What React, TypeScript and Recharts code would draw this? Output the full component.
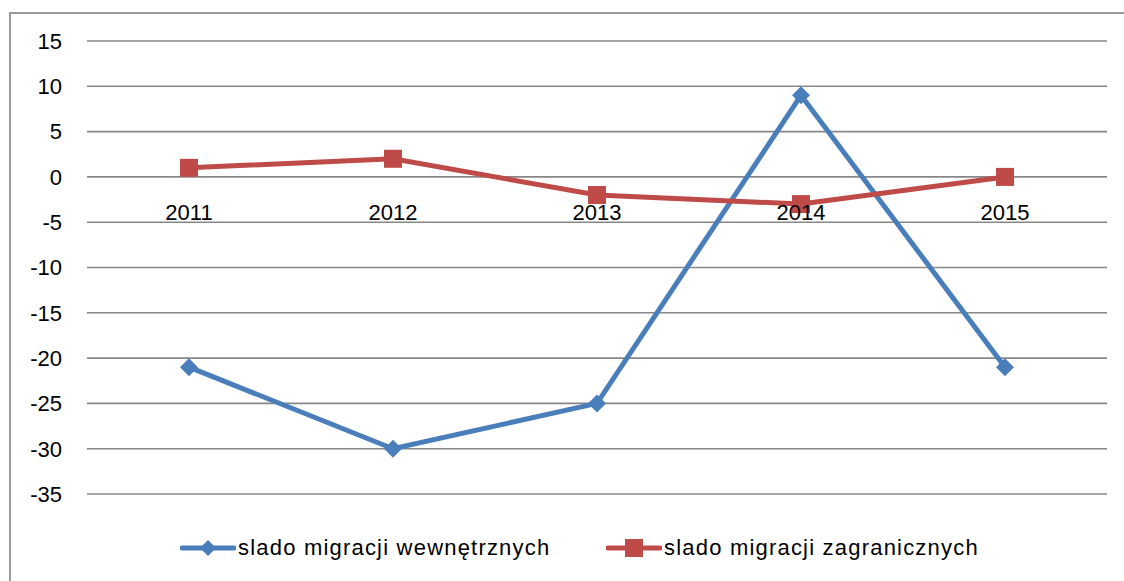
import React from 'react';
import { LineChart, Line, XAxis, YAxis, CartesianGrid, Legend, ReferenceDot } from 'recharts';

const years = ['2011', '2012', '2013', '2014', '2015'];
const internal = [-21, -30, -25, 9, -21];
const foreign = [1, 2, -2, -3, 0];
const yTicks = [-35, -30, -25, -20, -15, -10, -5, 0, 5, 10, 15];
const seriesNames = ['slado migracji wewnętrznych', 'slado migracji zagranicznych'];

const BLUE = '#4A7EBB';
const RED = '#BE4B48';
const FONT = '"Liberation Sans", Arial, sans-serif';

const data = years.map((y, i) => ({ year: y, internal: internal[i], foreign: foreign[i] }));

const Diamond = (props: any) => {
  const { cx, cy } = props;
  if (cx == null || cy == null) return null;
  const r = 9;
  return <path d={`M${cx},${cy - r}L${cx + r},${cy}L${cx},${cy + r}L${cx - r},${cy}Z`} fill={BLUE} />;
};

const Square = (props: any) => {
  const { cx, cy } = props;
  if (cx == null || cy == null) return null;
  const r = 9;
  return <rect x={cx - r} y={cy - r} width={2 * r} height={2 * r} fill={RED} />;
};

const LegendContent = () => (
  <div style={{ position: 'relative', width: 1124, height: 36, fontFamily: FONT, fontSize: 22 }}>
    <div style={{ position: 'absolute', left: 180, top: 0, display: 'flex', alignItems: 'center', height: 36 }}>
      <svg width={56} height={24}>
        <line x1={2} y1={12} x2={54} y2={12} stroke={BLUE} strokeWidth={5} strokeLinecap="round" />
        <path d="M28,4L36,12L28,20L20,12Z" fill={BLUE} />
      </svg>
      <span style={{ marginLeft: 2, letterSpacing: 1.2, color: '#000' }}>{seriesNames[0]}</span>
    </div>
    <div style={{ position: 'absolute', left: 606, top: 0, display: 'flex', alignItems: 'center', height: 36 }}>
      <svg width={56} height={24}>
        <line x1={2} y1={12} x2={54} y2={12} stroke={RED} strokeWidth={5} strokeLinecap="round" />
        <rect x={19} y={3} width={18} height={18} fill={RED} />
      </svg>
      <span style={{ marginLeft: 2, letterSpacing: 1.2, color: '#000' }}>{seriesNames[1]}</span>
    </div>
  </div>
);

export default function App() {
  return (
    <div style={{ position: 'absolute', left: 0, top: 0, width: 1124, height: 581, background: '#fff', overflow: 'hidden' }}>
      <div
        style={{
          position: 'absolute',
          left: 9,
          top: 12,
          width: 1130,
          height: 600,
          border: '2px solid #9a9a9a',
          boxSizing: 'border-box',
        }}
      />
      <div style={{ position: 'absolute', left: 0, top: 0 }}>
        <LineChart width={1124} height={581} data={data} margin={{ top: 41, right: 17, bottom: 87, left: 27 }}>
          <CartesianGrid vertical={false} stroke="#878787" strokeWidth={1.6} />
          <XAxis dataKey="year" hide padding={{ left: 102, right: 102 }} />
          <YAxis
            width={60}
            domain={[-35, 15]}
            ticks={yTicks}
            interval={0}
            axisLine={false}
            tickLine={false}
            tickSize={0}
            tickMargin={25}
            tick={{ fill: '#000', fontSize: 22, fontFamily: FONT }}
          />
          <Line
            dataKey="internal"
            name={seriesNames[0]}
            stroke={BLUE}
            strokeWidth={5}
            dot={<Diamond />}
            activeDot={false}
            isAnimationActive={false}
          />
          <Line
            dataKey="foreign"
            name={seriesNames[1]}
            stroke={RED}
            strokeWidth={5}
            dot={<Square />}
            activeDot={false}
            isAnimationActive={false}
          />
          {years.map((y) => (
            <ReferenceDot
              key={y}
              x={y}
              y={0}
              r={0}
              fill="none"
              stroke="none"
              label={{ value: y, position: 'bottom', offset: 27, fill: '#000', fontSize: 22, fontFamily: FONT }}
            />
          ))}
          <Legend
            layout="horizontal"
            verticalAlign="middle"
            align="center"
            content={<LegendContent />}
            wrapperStyle={{ position: 'absolute', top: 530, left: 0, width: 1124, height: 36 }}
          />
        </LineChart>
      </div>
    </div>
  );
}
